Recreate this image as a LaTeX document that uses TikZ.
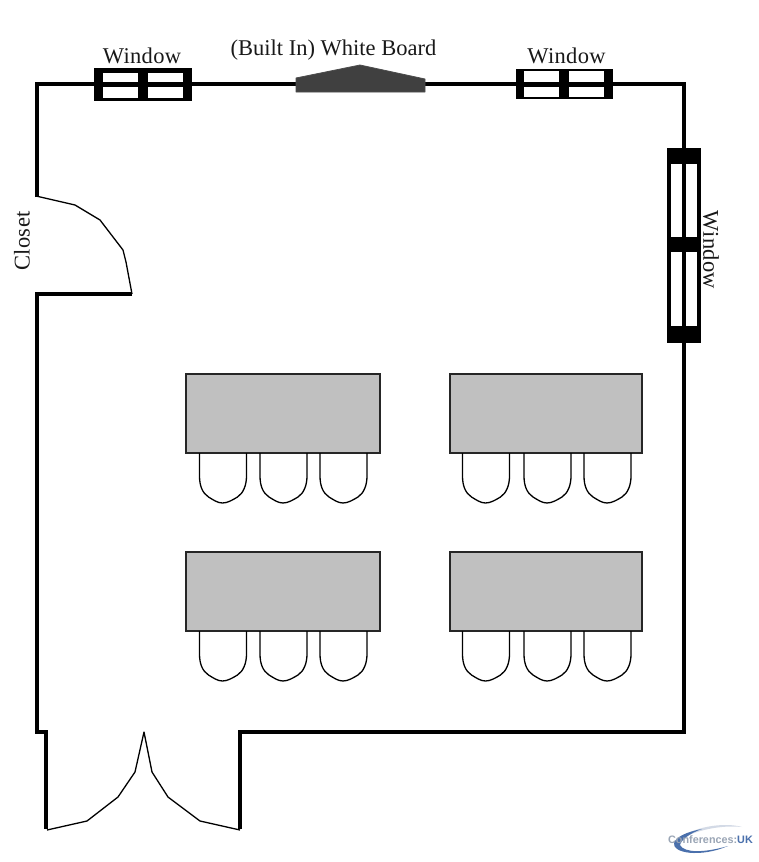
\documentclass[tikz,border=0pt]{standalone}
\usepackage{fontspec}
\setmainfont{Liberation Serif}
\newfontfamily\logofont{Liberation Sans}
\definecolor{boardgrey}{HTML}{404040}
\definecolor{tablegrey}{HTML}{C0C0C0}
\definecolor{logogrey}{HTML}{9AA5B5}
\definecolor{logoblue}{HTML}{4A70AC}
\definecolor{logopale}{HTML}{D3DAE6}
\tikzset{
  x=1pt,y=-1pt,
  wall/.style={draw=black,line width=4pt,line join=miter},
  doorleaf/.style={draw=black,line width=1.3pt,line join=round},
  frame/.style={fill=black},
  pane/.style={fill=white},
  table/.style={draw=black!85,line width=1.3pt,fill=tablegrey},
  chair/.style={draw=black,line width=1.3pt,line join=round},
  label/.style={font=\fontsize{22.5}{24}\selectfont,inner sep=0pt,text=black!90},
}
\newcommand{\chairshape}[2]{%
  \draw[chair,shift={(#1,#2)}] (0,0) -- (0,23) .. controls (0,33) and (3,40) .. (9,44)
    .. controls (14,47) and (18,50) .. (23,50) .. controls (28,50) and (33,47) .. (38,44)
    .. controls (44,40) and (47,32) .. (47,23) -- (47,0);}
\newcommand{\tablegroup}[6]{% x, y, table width, chair x, second offset, third offset
  \draw[table] (#1,#2) rectangle ++(#3,79);
  \chairshape{#4}{#2+79}
  \chairshape{#4+#5}{#2+79}
  \chairshape{#4+#6}{#2+79}}
\begin{document}
\begin{tikzpicture}
\useasboundingbox[fill=white] (0,0) rectangle (759,862);
% walls
\draw[wall] (37,197) -- (37,84) -- (684,84) -- (684,732) -- (240,732) -- (240,829);
\draw[wall] (132,294) -- (37,294) -- (37,732) -- (46,732) -- (46,829);
% top-left window
\fill[frame] (94,68) rectangle (192,101);
\fill[pane] (103,73) rectangle (138,98);
\fill[pane] (148,73) rectangle (183,98);
\fill[frame] (94,81.5) rectangle (192,87);
% top-right window
\fill[frame] (516,69) rectangle (613,99);
\fill[pane] (524,71) rectangle (559,97);
\fill[pane] (569,71) rectangle (604,97);
\fill[frame] (516,81.5) rectangle (613,86.5);
% right window
\fill[frame] (667,148) rectangle (701,343);
\fill[pane] (671,164) rectangle (697,237);
\fill[pane] (671,252) rectangle (697,326);
\fill[frame] (682,148) rectangle (686,343);
% white board
\draw[draw=black!70,fill=boardgrey,line width=.8pt,line join=round]
  (296,78) -- (360,65) -- (425,79) -- (425,92) -- (296,92) -- cycle;
% doors
\draw[doorleaf] (36,196) -- (75,205) -- (100,220) -- (123,250) -- (126,262) -- (132,294);
\draw[doorleaf] (47,830) -- (87,821) -- (118,797) -- (135,772) -- (144,732)
  -- (152,772) -- (168,797) -- (200,821) -- (240,830);
% tables and chairs
\tablegroup{186}{374}{194}{199.5}{60.5}{120.5}
\tablegroup{450}{374}{192}{462.5}{61.5}{121.5}
\tablegroup{186}{552}{194}{199.5}{60.5}{120.5}
\tablegroup{450}{552}{192}{462.5}{61.5}{121.5}
% labels
\node[label] (w1) at (142,56) {\addfontfeature{LetterSpace=1.5}Window};
\node[label] (wb) at (333.5,50.5) {(Built In) White Board};
\node[label] (w2) at (566.5,56) {\addfontfeature{LetterSpace=1.5}Window};
\node[label,rotate=-90] (w3) at (711,250) {\addfontfeature{LetterSpace=1.5}Window};
\node[label,rotate=90] (cl) at (22,241) {\addfontfeature{LetterSpace=1.5}Closet};
% logo
\fill[logopale] (674,843) .. controls (690,826) and (725,822) .. (742,827)
  .. controls (722,825) and (695,829) .. (674,843) -- cycle;
\fill[logoblue] (674,843) .. controls (672,853) and (700,858) .. (728,846)
  .. controls (704,853) and (684,853) .. (680,845)
  .. controls (681,840) and (690,833) .. (702,829)
  .. controls (686,832) and (676,837) .. (674,843) -- cycle;
\node[inner sep=0pt,font=\logofont\fontsize{10.8}{11}\selectfont\bfseries,text=logogrey] (logo) at (710.5,840) {Conferences:\textcolor{logoblue}{UK}};
\end{tikzpicture}
\end{document}
